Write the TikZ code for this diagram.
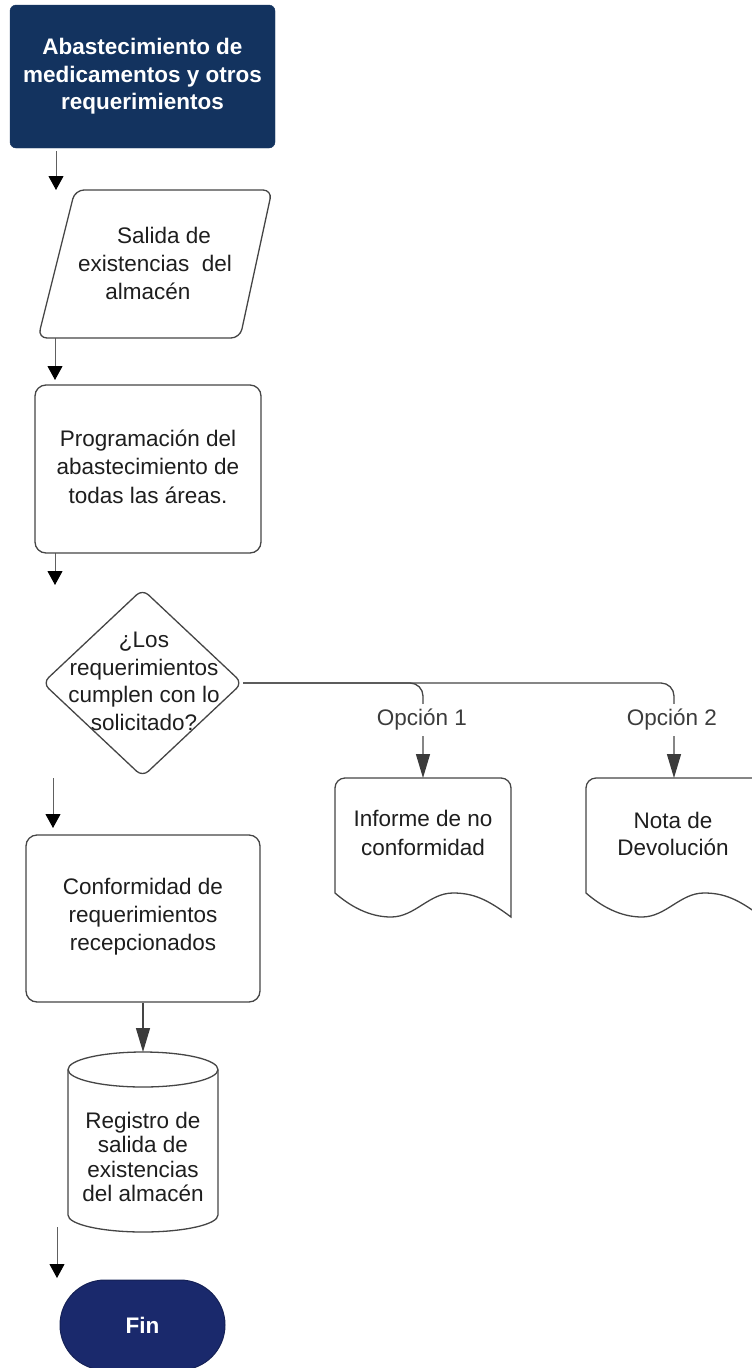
\documentclass[tikz,border=0pt]{standalone}
\usepackage{fontspec}
\setmainfont{Liberation Sans}
\usetikzlibrary{arrows.meta,shapes.geometric}

\definecolor{navyA}{HTML}{13335F}
\definecolor{navyB}{HTML}{1A296C}
\definecolor{edge}{HTML}{454545}
\definecolor{ink}{HTML}{1E1E1E}
\definecolor{lbl}{HTML}{3C3C3C}
\definecolor{stem}{HTML}{606060}

\tikzset{
  txt/.style={font=\fontsize{22.5pt}{28pt}\selectfont, text=ink, align=center, inner sep=0pt},
  shapeline/.style={draw=edge, line width=1.3pt, fill=white},
  frame/.style={inner sep=0pt, outer sep=0pt, draw=none},
  procbox/.style={shapeline, rectangle, rounded corners=11pt, txt},
  darkbox/.style={rectangle, fill=navyA, draw=navyA, text=white, align=center,
    font=\bfseries\fontsize{22.5pt}{27.5pt}\selectfont},
  freearrow/.style={draw=stem, line width=1pt, -{Triangle[width=15pt,length=14pt,color=black]}},
  flowarrow/.style={draw=edge, line width=1.3pt, -{Triangle[width=14pt,length=24pt,color=edge!85!black]}},
  optlabel/.style={font=\fontsize{22.5pt}{28pt}\selectfont, text=lbl, fill=white, inner sep=5pt}
}

\begin{document}
\begin{tikzpicture}[x=1pt,y=-1pt]
\useasboundingbox (0,0) rectangle (752,1368);

% start block
\node[darkbox, rounded corners=6pt, minimum width=265pt, minimum height=143pt] (start) at (142.5,76.5)
  {Abastecimiento de\\medicamentos y otros\\requerimientos};

% free-standing arrows on the left
\coordinate (a1s) at (56,151);  \coordinate (a1e) at (56,190);
\coordinate (a2s) at (55,338);  \coordinate (a2e) at (55,380);
\coordinate (a3s) at (55,553);  \coordinate (a3e) at (55,585);
\coordinate (a4s) at (53,778);  \coordinate (a4e) at (53,828);
\coordinate (a6s) at (57,1227); \coordinate (a6e) at (57,1278);
\foreach \s/\e in {a1s/a1e,a2s/a2e,a3s/a3e,a4s/a4e,a6s/a6e}
  \draw[freearrow] (\s) -- (\e);

% data (parallelogram)
\draw[shapeline, rounded corners=9pt] (75,190) -- (272,190) -- (240,338) -- (38,338) -- cycle;
\node[txt] (salida) at (155,263)
  {\hspace*{18pt}Salida de\\existencias\ \ del\\almacén\hspace*{14pt}};

% process
\node[procbox, minimum width=226pt, minimum height=168pt] (prog) at (148,469) {};
\node[txt, font=\fontsize{22.5pt}{28.5pt}\selectfont] (progtext) at (148,466.5)
  {Programación del\\abastecimiento de\\todas las áreas.};

% decision
\node[diamond, shapeline, rounded corners=8pt, minimum width=200pt, minimum height=188pt, inner sep=0pt] (dec) at (142.5,683) {};
\node[txt, font=\fontsize{22.5pt}{27.7pt}\selectfont] (dectext) at (144,681.5)
  {¿Los\\requerimientos\\cumplen con lo\\solicitado?};

% document shapes
\node[frame, minimum width=176pt, minimum height=139pt] (doc1) at (423,847.5) {};
\node[frame, minimum width=176pt, minimum height=139pt] (doc2) at (674,847.5) {};
\foreach \ox in {335,586}{
  \begin{scope}[shift={(\ox,778)}]
    \draw[shapeline] (0,115) -- (0,10) arc[start angle=180,end angle=90,radius=10pt]
      -- (166,0) arc[start angle=90,end angle=0,radius=10pt] -- (176,139)
      .. controls (152,121) and (138,115) .. (118,115)
      .. controls (94,115) and (80,139) .. (56,139)
      .. controls (34,139) and (15,128) .. (0,115) -- cycle;
  \end{scope}
}
\node[txt, font=\fontsize{22.5pt}{29pt}\selectfont] (doc1text) at (423,832.5) {Informe de no\\conformidad};
\node[txt, font=\fontsize{22.5pt}{27pt}\selectfont] (doc2text) at (673,833.5) {Nota de\\Devolución};

% branches from the decision
\draw[flowarrow, rounded corners=13pt] (dec.east) -| (doc1.north);
\draw[flowarrow, rounded corners=13pt] (dec.east) -| (doc2.north);
\node[optlabel] (opt1) at (422,720) {Opción 1};
\node[optlabel] (opt2) at (672,720) {Opción 2};

% process
\node[procbox, minimum width=234pt, minimum height=167pt] (conf) at (143,918.5) {};
\node[txt] (conftext) at (143,916.5) {Conformidad de\\requerimientos\\recepcionados};

% stored data (cylinder)
\node[frame, minimum width=150pt, minimum height=180pt] (cyl) at (143,1142) {};
\draw[shapeline] (68,1070) -- (68,1215) arc[start angle=180,end angle=360,x radius=75pt,y radius=17pt] -- (218,1070);
\draw[shapeline] (143,1069.5) ellipse[x radius=75pt,y radius=17.5pt];
\node[txt, font=\fontsize{22.5pt}{24.5pt}\selectfont] (cyltext) at (143,1157)
  {Registro de\\salida de\\existencias\\del almacén};
\draw[flowarrow] (conf.south) -- (cyl.north);

% terminator
\node[rectangle, rounded corners=45pt, fill=navyB, draw=navyB!80!black, line width=1pt,
  minimum width=165pt, minimum height=90pt, text=white, font=\bfseries\fontsize{22.5pt}{27pt}\selectfont] (fin) at (142.5,1325) {Fin};
\end{tikzpicture}
\end{document}
